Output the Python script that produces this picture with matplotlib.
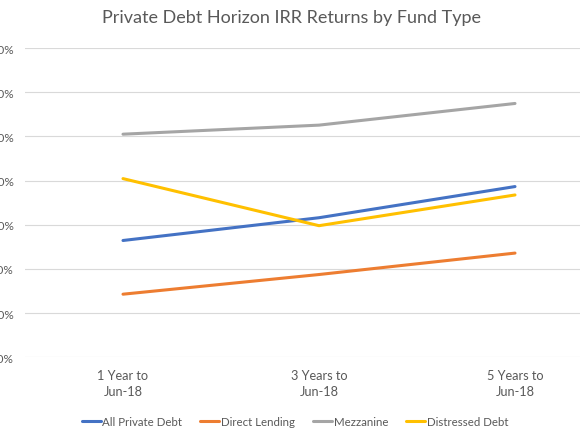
import matplotlib.pyplot as plt

plt.rcParams['font.family'] = ['Lato', 'DejaVu Sans']

# datos (en %)
periodos = ['1 Year to\nJun-18', '3 Years to\nJun-18', '5 Years to\nJun-18']
all_private = [5.29, 6.32, 7.73]
direct_lending = [2.86, 3.75, 4.72]
mezzanine = [10.10, 10.51, 11.49]
distressed = [8.09, 5.96, 7.35]
yticks = [0, 2, 4, 6, 8, 10, 12, 14]
ytick_labels = ['0.0%', '2.0%', '4.0%', '6.0%', '8.0%', '10.0%', '12.0%', '14.0%']

series = [
    ('All Private Debt', all_private, '#4472C4'),
    ('Direct Lending', direct_lending, '#ED7D31'),
    ('Mezzanine', mezzanine, '#A5A5A5'),
    ('Distressed Debt', distressed, '#FFC000'),
]

fig = plt.figure(figsize=(5.8, 4.35), dpi=100)
# el area del grafico se sale del borde, como en el original
ax = fig.add_axes([25 / 580, 76.6 / 435, 588 / 580, 309.4 / 435])

x = range(len(periodos))
for nombre, valores, color in series:
    ax.plot(x, valores, color=color, lw=2.2, label=nombre, solid_capstyle='round')

ax.set_xlim(-0.5, 2.5)
ax.set_ylim(0, 14)
ax.set_yticks(yticks, ytick_labels)
ax.set_xticks(list(x), periodos)
ax.grid(axis='y', color='#D9D9D9', lw=0.8)
ax.set_axisbelow(True)
for s in ax.spines.values():
    s.set_visible(False)
ax.tick_params(axis='y', length=0, pad=8, labelsize=8.5, labelcolor='#595959')
ax.tick_params(axis='x', length=0, pad=8, labelsize=9.2, labelcolor='#595959')
for t in ax.get_xticklabels():
    t.set_linespacing(1.4)

fig.text(292 / 580, 1 - 18 / 435, 'Private Debt Horizon IRR Returns by Fund Type',
         ha='center', va='center', fontsize=13, color='#595959')

fig.legend(loc='center', bbox_to_anchor=(295 / 580, 1 - 423 / 435), ncol=4, frameon=False,
           fontsize=8.3, labelcolor='#595959', handlelength=1.65, handletextpad=0.15,
           columnspacing=1.55)

fig.savefig('out.png', dpi=100)
